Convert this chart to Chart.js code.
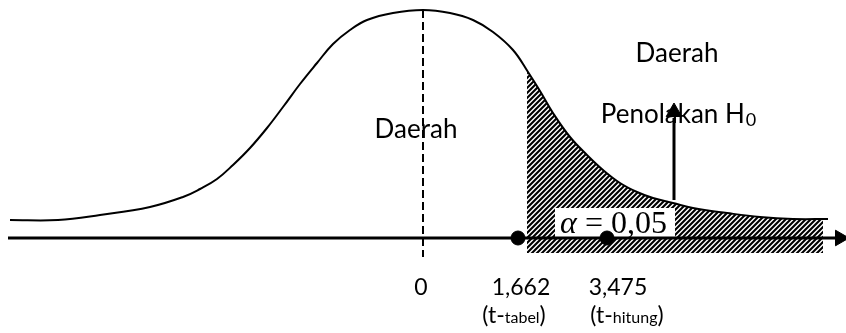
<!DOCTYPE html>
<html>
<head>
<meta charset="utf-8">
<script src="https://cdn.jsdelivr.net/npm/chart.js@4.4.0/dist/chart.umd.min.js"></script>
<style>
  html, body { margin: 0; padding: 0; background: #fff; }
  #wrap { width: 846px; height: 333px; }
</style>
</head>
<body>
<div id="wrap"><canvas id="tChart" width="846" height="333"></canvas></div>
<script>
// Curve of the t distribution as drawn (x position, height above the axis)
const curveX = [10, 58, 100, 150, 183, 200, 217, 233, 250, 267, 283, 300, 317, 333, 350, 367, 393, 423, 450, 473, 493, 513, 528, 540, 553, 570, 587, 603, 620, 637, 653, 673, 693, 727, 760, 793, 828];
const curveY = [18, 18, 23, 31, 41, 49, 59, 73, 90, 110, 131, 154, 175, 194, 208, 218, 225, 228, 225, 218, 206, 188, 166, 147, 125, 101, 83, 68, 55, 46, 40, 35, 30, 25, 21, 19, 19];

// Rejection region (hatched tail)
const tailX = [527, 540, 553, 570, 587, 603, 620, 637, 653, 673, 693, 727, 760, 793, 823];
const tailY = [167, 147, 125, 101, 83, 68, 55, 46, 40, 35, 30, 25, 21, 19, 19];
const tailBottom = -15;

// Points on the axis
const pointX = [518, 607];
const meanX = 423;
const tickLabels = ['0', '1,662', '3,475'];
const tickX = [421, 521, 618];
const subLabels = [['(t-', 'tabel', ')'], ['(t-', 'hitung', ')']];
const subX = [514, 627];

function makeHatch() {
  const c = document.createElement('canvas');
  c.width = 5; c.height = 5;
  const g = c.getContext('2d');
  g.strokeStyle = '#000';
  g.lineWidth = 2.1;
  g.beginPath();
  g.moveTo(-1, 6); g.lineTo(6, -1);
  g.moveTo(-1, 1); g.lineTo(1, -1);
  g.moveTo(4, 6); g.lineTo(6, 4);
  g.stroke();
  return g.createPattern(c, 'repeat');
}

const FONT = 'Lato, "Open Sans", sans-serif';

const labelPlugin = {
  id: 'labels',
  afterDatasetDraw(chart, args) {
    if (args.index !== 0) return;
    const { ctx, scales: { x, y } } = chart;
    // white box behind alpha
    ctx.save();
    ctx.fillStyle = '#fff';
    ctx.fillRect(x.getPixelForValue(555), y.getPixelForValue(30), 120, 29);
    ctx.restore();
  },
  afterDraw(chart) {
    const { ctx, scales: { x, y } } = chart;
    ctx.save();
    ctx.fillStyle = '#000';
    ctx.textBaseline = 'alphabetic';

    // alpha
    ctx.textAlign = 'left';
    ctx.font = 'italic 32px "Liberation Serif", serif';
    ctx.fillText('α', x.getPixelForValue(560), 233);
    ctx.font = '32px "Liberation Serif", serif';
    ctx.fillText('= 0,05', x.getPixelForValue(585), 233);

    ctx.font = '26px ' + FONT;
    ctx.textAlign = 'center';
    ctx.fillText('Daerah', 677, 62);
    ctx.fillText('Daerah', 416, 138);

    // Penolakan H0
    ctx.textAlign = 'left';
    const p = 'Penolakan H';
    ctx.font = '26px ' + FONT;
    const pw = ctx.measureText(p).width;
    ctx.font = '18px ' + FONT;
    const sw = ctx.measureText('0').width;
    const px = 678 - (pw + sw) / 2;
    ctx.font = '26px ' + FONT;
    ctx.fillText(p, px, 123);
    ctx.font = '18px ' + FONT;
    ctx.fillText('0', px + pw + 1, 126);

    // tick labels
    ctx.font = '23px ' + FONT;
    ctx.textAlign = 'center';
    tickLabels.forEach((t, i) => ctx.fillText(t, x.getPixelForValue(tickX[i]), 295));

    // (t-tabel), (t-hitung)
    ctx.textAlign = 'left';
    subLabels.forEach((parts, i) => {
      ctx.font = '23px ' + FONT;
      const w0 = ctx.measureText(parts[0]).width;
      const w2 = ctx.measureText(parts[2]).width;
      ctx.font = '16px ' + FONT;
      const w1 = ctx.measureText(parts[1]).width;
      const cx = x.getPixelForValue(subX[i]) - (w0 + w1 + w2) / 2;
      ctx.font = '23px ' + FONT;
      ctx.fillText(parts[0], cx, 323);
      ctx.font = '16px ' + FONT;
      ctx.fillText(parts[1], cx + w0, 323);
      ctx.font = '23px ' + FONT;
      ctx.fillText(parts[2], cx + w0 + w1, 323);
    });
    ctx.restore();
  }
};

const ctx = document.getElementById('tChart').getContext('2d');
new Chart(ctx, {
  type: 'line',
  data: {
    datasets: [
      {
        label: 'tail',
        data: tailX.map((v, i) => ({ x: v, y: tailY[i] })),
        borderWidth: 0,
        pointRadius: 0,
        tension: 0.4,
        backgroundColor: makeHatch(),
        fill: { value: tailBottom },
        order: 6
      },
      {
        label: 'curve',
        data: curveX.map((v, i) => ({ x: v, y: curveY[i] })),
        borderColor: '#000',
        borderWidth: 2,
        pointRadius: 0,
        tension: 0.4,
        fill: false,
        order: 5
      },
      {
        label: 'axis',
        data: [{ x: 8, y: 0 }, { x: 838, y: 0 }],
        borderColor: '#000',
        borderWidth: 3,
        pointRadius: 0,
        order: 4
      },
      {
        label: 'axisArrow',
        data: [{ x: 840, y: 0 }],
        showLine: false,
        pointStyle: 'triangle',
        rotation: 90,
        pointRadius: 9,
        backgroundColor: '#000',
        borderColor: '#000',
        clip: false,
        order: 3
      },
      {
        label: 'mean',
        data: [{ x: meanX, y: 228 }, { x: meanX, y: -19 }],
        borderColor: '#000',
        borderWidth: 2,
        borderDash: [8, 4],
        pointRadius: 0,
        order: 4
      },
      {
        label: 'arrow',
        data: [{ x: 674, y: 38 }, { x: 674, y: 120 }],
        borderColor: '#000',
        borderWidth: 3,
        pointRadius: 0,
        order: 3
      },
      {
        label: 'arrowHead',
        data: [{ x: 674, y: 126 }],
        showLine: false,
        pointStyle: 'triangle',
        pointRadius: 9,
        backgroundColor: '#000',
        borderColor: '#000',
        order: 2
      },
      {
        label: 'points',
        data: pointX.map(v => ({ x: v, y: 0 })),
        showLine: false,
        pointRadius: 7,
        backgroundColor: '#000',
        borderColor: '#000',
        order: 1
      }
    ]
  },
  options: {
    responsive: false,
    animation: false,
    layout: { padding: 0, autoPadding: false },
    plugins: { legend: { display: false }, tooltip: { enabled: false } },
    scales: {
      x: { type: 'linear', min: 0, max: 846, display: false },
      y: { type: 'linear', min: -95, max: 238, display: false }
    }
  },
  plugins: [labelPlugin]
});
</script>
</body>
</html>
